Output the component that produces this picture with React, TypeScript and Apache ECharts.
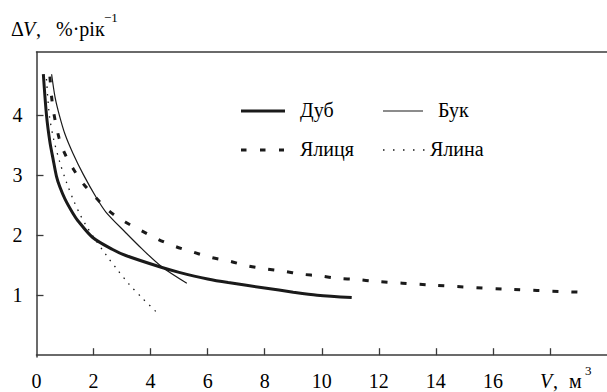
import React, { useEffect, useRef } from 'react';
import * as echarts from 'echarts';

// Дуб (oak)
const dubV = [0.24, 0.35, 0.47, 0.58, 0.7, 0.82, 1.0, 1.28, 1.45, 1.97, 2.67, 3.13, 4.4, 5.0, 6.0, 6.72, 8.0, 9.0, 9.84, 11.05];
const dubDV = [4.68, 4.0, 3.55, 3.27, 2.98, 2.8, 2.6, 2.36, 2.24, 1.96, 1.76, 1.66, 1.46, 1.38, 1.27, 1.21, 1.12, 1.05, 1.0, 0.96];
// Бук (beech)
const bukV = [0.53, 0.65, 0.8, 1.0, 1.28, 1.63, 2.09, 2.44, 3.13, 3.7, 4.4, 5.27];
const bukDV = [4.68, 4.3, 4.0, 3.68, 3.36, 3.02, 2.63, 2.38, 2.04, 1.77, 1.47, 1.2];
// Ялиця (fir)
const yalytsiaV = [0.47, 0.53, 0.61, 0.79, 0.99, 1.28, 1.65, 2.11, 2.55, 3.11, 3.69, 4.26, 4.87, 5.47, 6.1, 6.74, 7.38, 8.01, 8.65, 9.29, 9.94, 10.57, 11.23, 11.87, 13.78, 16.44, 19.0];
const yalytsiaDV = [4.64, 4.3, 4.02, 3.62, 3.36, 3.11, 2.85, 2.61, 2.4, 2.22, 2.07, 1.93, 1.81, 1.72, 1.63, 1.57, 1.49, 1.44, 1.4, 1.35, 1.32, 1.28, 1.26, 1.23, 1.17, 1.1, 1.05];
// Ялина (spruce)
const yalynaV = [0.35, 0.45, 0.6, 0.82, 1.05, 1.28, 1.51, 1.74, 2.07, 2.44, 2.84, 3.25, 3.71, 4.18];
const yalynaDV = [4.6, 4.0, 3.6, 3.21, 2.88, 2.6, 2.36, 2.16, 1.92, 1.67, 1.42, 1.18, 0.95, 0.73];

const xLabelValues = [0, 2, 4, 6, 8, 10, 12, 14, 16];
const xTickValues = [2, 4, 6, 8, 10, 12, 14, 16, 18];
const yTickValues = [1, 2, 3, 4];

const seriesNames = ['Дуб', 'Бук', 'Ялиця', 'Ялина'];

const FONT = 'Liberation Serif';
const INK = '#1a1a1a';
const AXIS = '#3a3a3a';

const pairs = (xs: number[], ys: number[]) => xs.map((x, i) => [x, ys[i]]);

export default function App() {
  const ref = useRef<HTMLDivElement>(null);
  useEffect(() => {
    const chart = echarts.init(ref.current!, null, { renderer: 'svg' });
    const txt = (text: string, x: number, y: number, size = 20, italic = false) => ({
      type: 'text', x, y,
      style: { text, font: (italic ? 'italic ' : '') + size + 'px ' + FONT, fill: '#000', verticalAlign: 'middle' },
    });
    chart.setOption({
      animation: false,
      textStyle: { fontFamily: FONT },
      grid: { left: 36.5, top: 52, width: 577, height: 305 },
      xAxis: [
        {
          type: 'value', min: 0, max: 20,
          axisLine: { show: true, lineStyle: { color: AXIS, width: 1.5 } },
          axisTick: { show: true, inside: true, length: 7, customValues: xTickValues, lineStyle: { color: AXIS, width: 1.3 } },
          axisLabel: { customValues: xLabelValues, margin: 14, fontSize: 20, fontFamily: FONT, color: '#000' },
          splitLine: { show: false },
        },
        {
          type: 'value', min: 0, max: 20, position: 'top',
          axisLine: { show: true, lineStyle: { color: AXIS, width: 1.5 } },
          axisTick: { show: false }, axisLabel: { show: false }, splitLine: { show: false },
        },
      ],
      yAxis: {
        type: 'value', min: -0.03, max: 5.05,
        axisLine: { show: true, lineStyle: { color: AXIS, width: 1.5 } },
        axisTick: { show: true, inside: true, length: 7, customValues: yTickValues, lineStyle: { color: AXIS, width: 1.3 } },
        axisLabel: { customValues: yTickValues, margin: 14, fontSize: 20, fontFamily: FONT, color: '#000' },
        splitLine: { show: false },
      },
      series: [
        { name: seriesNames[0], type: 'line', data: pairs(dubV, dubDV), symbol: 'none', smooth: 0.3, lineStyle: { color: INK, width: 3 } },
        { name: seriesNames[1], type: 'line', data: pairs(bukV, bukDV), symbol: 'none', smooth: 0.3, lineStyle: { color: INK, width: 1.2 } },
        { name: seriesNames[2], type: 'line', data: pairs(yalytsiaV, yalytsiaDV), symbol: 'none', smooth: 0.3, lineStyle: { color: INK, width: 3, type: [6, 13] } },
        { name: seriesNames[3], type: 'line', data: pairs(yalynaV, yalynaDV), symbol: 'none', smooth: 0.3, lineStyle: { color: INK, width: 1.3, type: [1.5, 6] } },
      ],
      graphic: [
        txt('Δ', 11, 29),
        txt('V', 23, 29, 20, true),
        txt(',', 36, 29),
        txt('%·рік', 56, 29),
        txt('−1', 104, 17, 13),
        txt('V', 540, 381, 20, true),
        txt(',', 553, 381),
        txt('м', 569, 381),
        txt('3', 585, 370, 13),
        { type: 'line', shape: { x1: 241, y1: 111, x2: 285, y2: 111 }, style: { stroke: INK, lineWidth: 3 } },
        txt(seriesNames[0], 300, 110),
        { type: 'line', shape: { x1: 383, y1: 111, x2: 423, y2: 111 }, style: { stroke: INK, lineWidth: 1.2 } },
        txt(seriesNames[1], 438, 110),
        { type: 'line', shape: { x1: 241, y1: 150, x2: 284, y2: 150 }, style: { stroke: INK, lineWidth: 3, lineDash: [5.5, 13.5] } },
        txt(seriesNames[2], 300, 149),
        { type: 'line', shape: { x1: 383, y1: 150, x2: 426, y2: 150 }, style: { stroke: INK, lineWidth: 1.3, lineDash: [1.5, 8.5] } },
        txt(seriesNames[3], 430, 149),
      ],
    });
    return () => chart.dispose();
  }, []);
  return <div ref={ref} style={{ position: 'fixed', left: 0, top: 0, width: 607, height: 392, background: '#fff' }} />;
}
